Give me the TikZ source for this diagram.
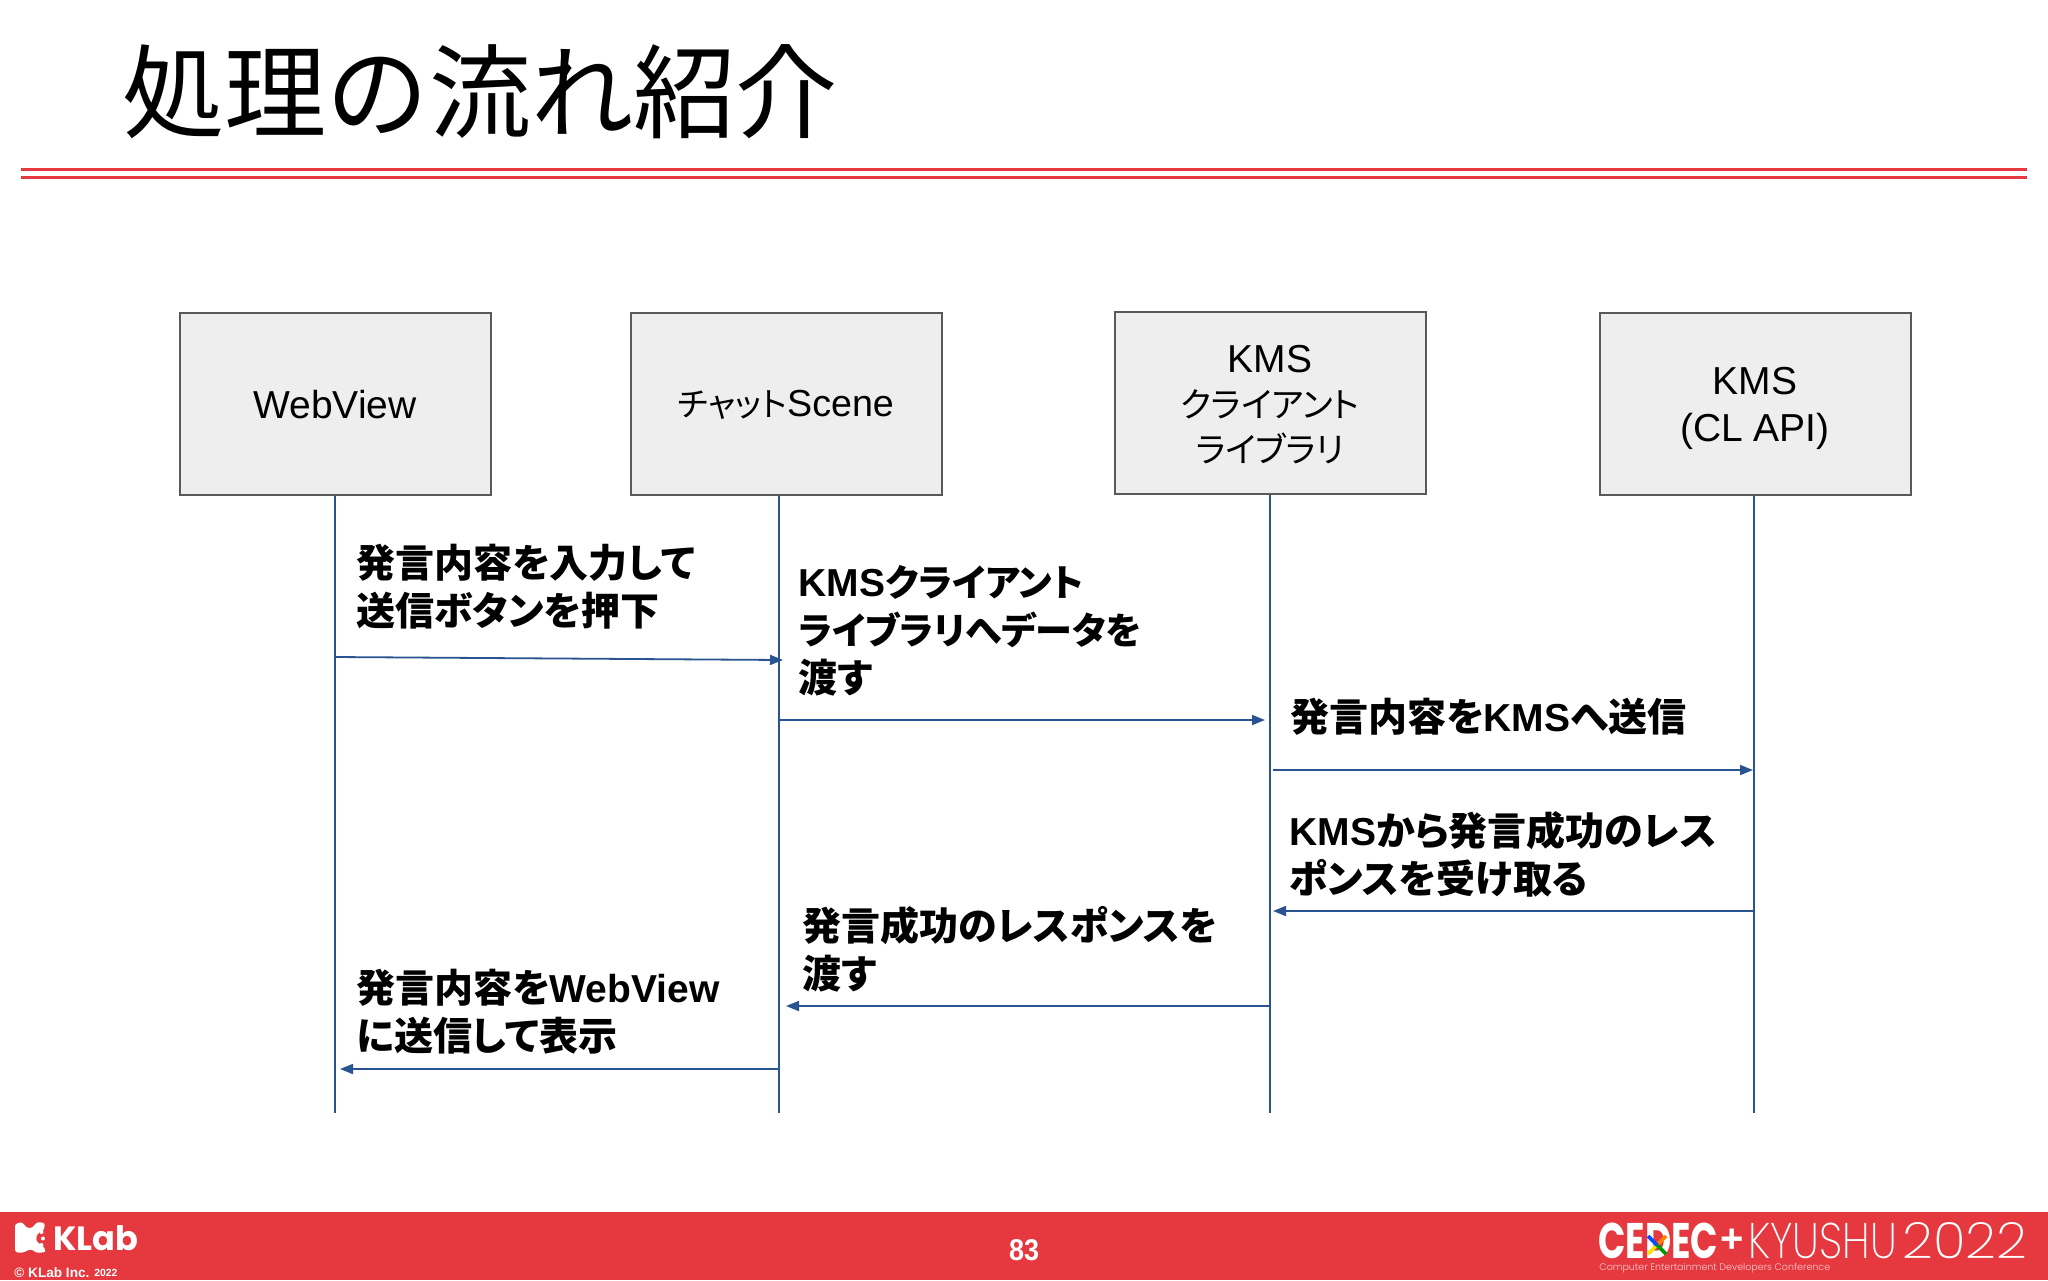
\documentclass[tikz,border=0pt]{standalone}
\usepackage{fontspec}
\usetikzlibrary{arrows.meta}
\setmainfont{Liberation Sans}
\newfontfamily\cjk[Scale=1.0,RawFeature=+palt]{Noto Sans CJK JP}
\newfontfamily\cjkp[Scale=0.95,RawFeature=+palt]{Noto Sans CJK JP}
\newfontfamily\cjkb[Scale=0.885,RawFeature=+palt]{Noto Sans CJK JP}
\newfontfamily\cjktitle{Noto Sans CJK JP}
\newfontfamily\thinfont{Poppins ExtraLight}
\newfontfamily\lightfont{Poppins Light}
\newfontfamily\boldfont{Poppins}[BoldFont=* Bold]
\definecolor{banner}{HTML}{E5383F}
\definecolor{flow}{HTML}{2A5490}
\definecolor{boxedge}{HTML}{595959}
\definecolor{boxfill}{HTML}{EEEEEE}
\tikzset{
  actor/.style={draw=boxedge,fill=boxfill,line width=1pt,minimum width=155.5pt,minimum height=91pt,inner sep=0pt},
  actortext/.style={inner sep=0pt,align=center,font=\fontsize{19.5}{22.4}\selectfont},
  life/.style={draw=flow,line width=0.9pt},
  msg/.style={draw=flow,line width=0.9pt,-{Triangle[length=6.5pt,width=5pt]}},
  note/.style={anchor=west,inner sep=0pt,align=left,font=\fontsize{19.5}{24}\selectfont\bfseries},
  rule/.style={draw=banner,line width=1.5pt},
}
\begin{document}
\begin{tikzpicture}[x=0.5pt,y=-0.5pt]
\useasboundingbox (0,0) rectangle (2048,1280);
\fill[white] (0,0) rectangle (2048,1280);
% title
\node[anchor=west,inner sep=0pt,font=\fontsize{51.1}{51.1}\selectfont] (title) at (122,92) {\cjktitle 処理の流れ紹介};
\coordinate (r1a) at (21,169); \coordinate (r1b) at (2027,169);
\coordinate (r2a) at (21,177); \coordinate (r2b) at (2027,177);
\draw[rule] (r1a) -- (r1b);
\draw[rule] (r2a) -- (r2b);
% actors
\node[actor] (b1) at (335,403.5) {};
\node[actor] (b2) at (786,403.5) {};
\node[actor] (b3) at (1270,403) {};
\node[actor] (b4) at (1755,403.5) {};
\node[actortext] (l1) at (335,405) {WebView};
\node[actortext] (l2) at (786,405) {\scalebox{0.965}{{\cjkb チャット}Scene}};
\node[actortext] (l3) at (1270,404.5) {KMS\\{\cjkb クライアント}\\{\cjkb ライブラリ}};
\node[actortext,font=\fontsize{19.5}{23.5}\selectfont] (l4) at (1755,408) {KMS\\(CL API)};
% lifelines
\coordinate (e1) at (335,1113);
\coordinate (e2) at (779,1113);
\coordinate (e3) at (1270,1113);
\coordinate (e4) at (1754,1113);
\draw[life] (b1.south -| e1) -- (e1);
\draw[life] (b2.south -| e2) -- (e2);
\draw[life] (b3.south -| e3) -- (e3);
\draw[life] (b4.south -| e4) -- (e4);
% messages
\coordinate (m1a) at (335,657); \coordinate (m1b) at (783,660);
\coordinate (m2a) at (779,720); \coordinate (m2b) at (1265,720);
\coordinate (m3a) at (1273,770); \coordinate (m3b) at (1753,770);
\coordinate (m4a) at (1754,911); \coordinate (m4b) at (1273,911);
\coordinate (m5a) at (1270,1006); \coordinate (m5b) at (786,1006);
\coordinate (m6a) at (779,1069); \coordinate (m6b) at (340,1069);
\draw[msg] (m1a) -- (m1b);
\draw[msg] (m2a) -- (m2b);
\draw[msg] (m3a) -- (m3b);
\draw[msg] (m4a) -- (m4b);
\draw[msg] (m5a) -- (m5b);
\draw[msg] (m6a) -- (m6b);
% notes
\node[note] (t1) at (356,587) {{\cjk 発言内容を入力して}\\{\cjk 送信ボタンを押下}};
\node[note] (t2) at (798,631) {KMS{\cjkp クライアント}\\{\cjkp ライブラリへデータを}\\{\cjk 渡す}};
\node[note] (t3) at (1290,717) {{\cjk 発言内容を}KMS{\cjk へ送信}};
\node[note] (t4) at (1289,854) {KMS{\cjk から発言成功のレス}\\{\cjk ポンスを受け取る}};
\node[note] (t5) at (802,949) {{\cjk 発言成功のレスポンスを}\\{\cjk 渡す}};
\node[note] (t6) at (356,1012) {{\cjk 発言内容を}WebView\\{\cjk に送信して表示}};
% footer
\fill[banner] (0,1212) rectangle (2048,1280);
\node[text=white,inner sep=0pt] (page) at (1024,1250) {\scalebox{0.9}[1]{\fontsize{15}{15}\selectfont\bfseries 83}};
% KLab mark
\fill[white,rounded corners=1.2pt] (15,1224) -- (22,1222) -- (27,1228) -- (32,1228) -- (37,1222) -- (45,1223) -- (44,1230) -- (37,1234) -- (36,1241) -- (44,1247) -- (46,1252) -- (37,1253) -- (31,1249) -- (22,1253) -- (15,1252) -- cycle;
\fill[white] (41.5,1232) circle (2) (43,1238.5) circle (2) (41.5,1245) circle (2);
\node[anchor=west,inner sep=0pt,text=white,font=\fontsize{16.8}{17}\selectfont] (klab) at (53,1238) {\bfseries\boldfont KLab};
\node[anchor=west,inner sep=0pt,text=white,font=\fontsize{6.8}{8}\selectfont\bfseries] (copy) at (14,1273) {© KLab Inc.};
\node[anchor=west,inner sep=0pt,text=white,font=\fontsize{5.2}{6}\selectfont\bfseries] (copyy) at (94,1273) {2022};
% CEDEC logo
\node[anchor=west,inner sep=0pt,text=white] (cedec) at (1598,1241) {\scalebox{0.72}[1]{\fontsize{25}{25}\selectfont\bfseries\boldfont CEDEC}};
\foreach \c/\ax/\ay/\bx/\by in {orange/1657/1245/1666/1236,yellow!85!orange/1657/1245/1648/1254,green!60!black/1657/1245/1666/1254,blue!70!cyan/1657/1245/1648/1236}
  \draw[\c,line width=1.8pt] (\ax,\ay) -- (\bx,\by);
\node[inner sep=0pt,text=white,font=\fontsize{20}{20}\selectfont\bfseries] (plus) at (1732,1241) {+};
\node[anchor=west,inner sep=0pt,text=white] (kyushu) at (1748,1241) {\scalebox{0.83}[1]{\fontsize{25}{25}\selectfont\thinfont KYUSHU}};
\node[anchor=west,inner sep=0pt,text=white] (year) at (1902,1241) {\scalebox{1.08}[1]{\fontsize{25}{25}\selectfont\thinfont 2022}};
\node[anchor=west,inner sep=0pt,text=white!75!banner] (conf) at (1599,1268) {\fontsize{4.75}{6}\selectfont\lightfont Computer Entertainment Developers Conference};
\end{tikzpicture}
\end{document}
